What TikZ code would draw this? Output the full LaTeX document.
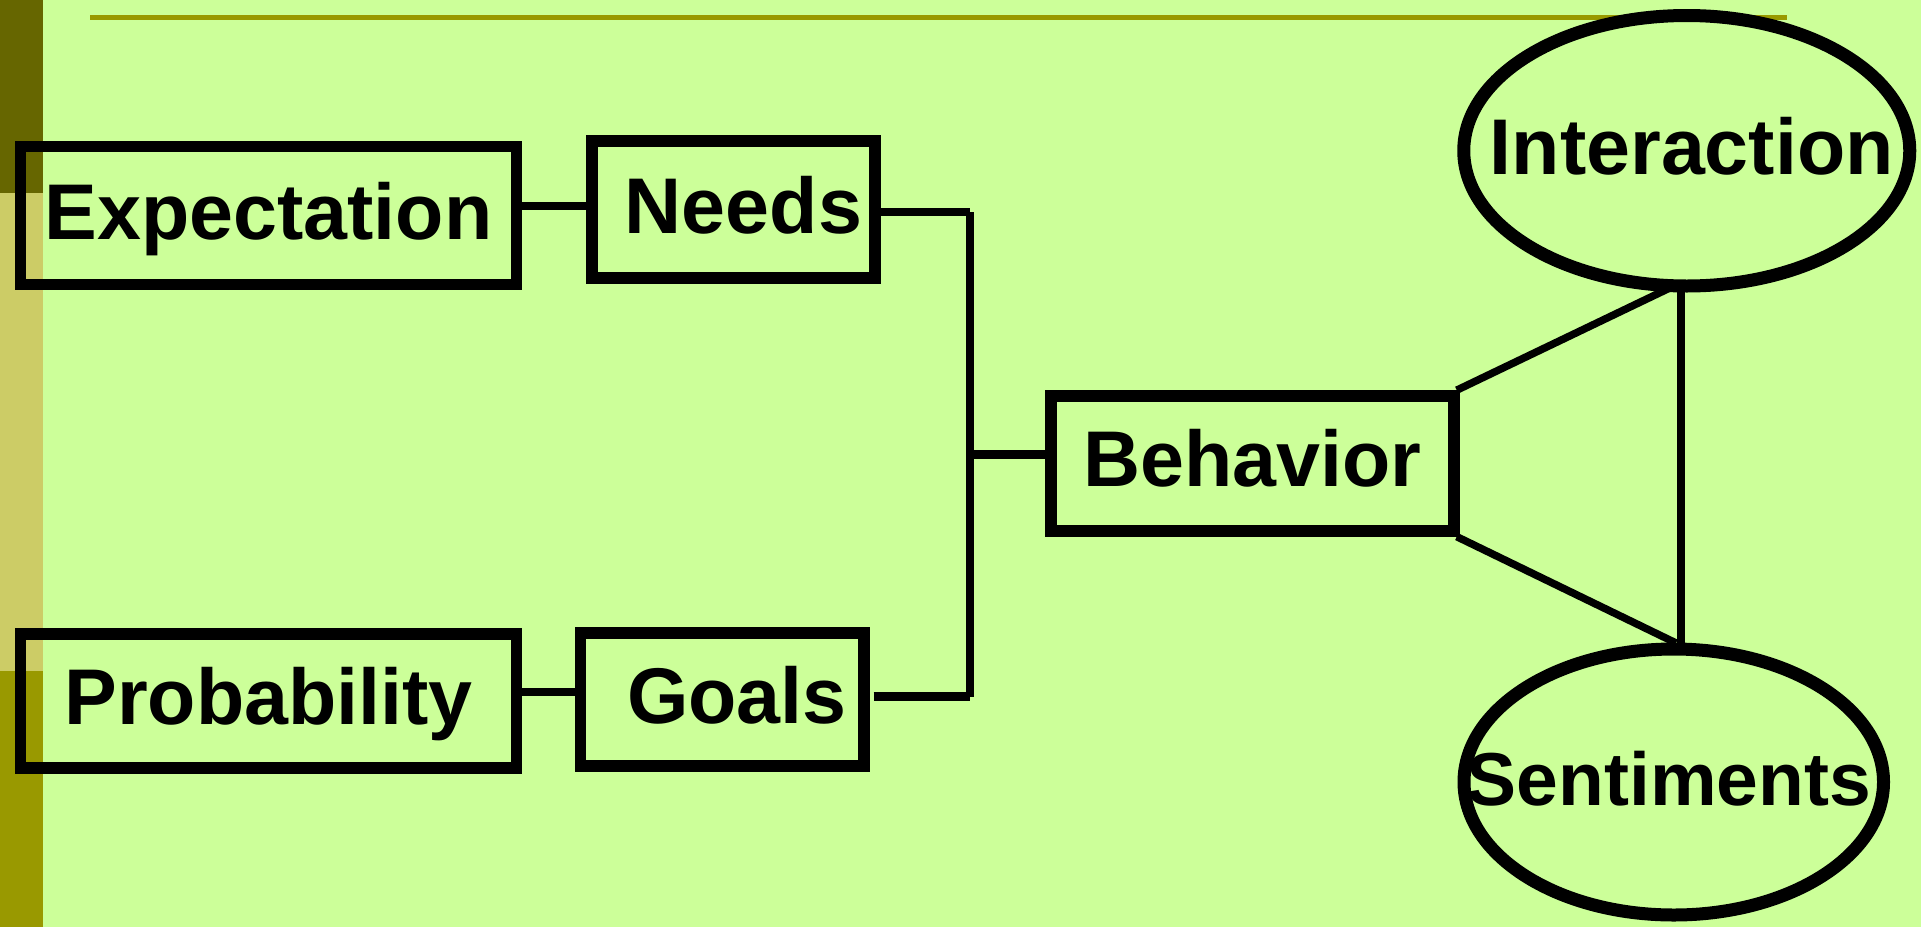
\documentclass[tikz,border=0pt]{standalone}
\usepackage{fontspec}
\setmainfont{Liberation Sans}
\usetikzlibrary{shapes.geometric}

\definecolor{bgcol}{HTML}{CCFF99}
\definecolor{darkolive}{HTML}{666600}
\definecolor{khaki}{HTML}{CCCC66}
\definecolor{olive}{HTML}{999900}

\tikzset{
  txt/.style={font=\bfseries\fontsize{79}{90}\selectfont, text height=57, text depth=10, inner sep=0},
  box/.style={draw=black, line width=11.5, rectangle, inner sep=0},
  oval/.style={draw=black, line width=13, ellipse, inner sep=0},
  link/.style={draw=black, line width=8.5},
  slant/.style={draw=black, line width=7.5},
}

\begin{document}
\begin{tikzpicture}[x=1pt, y=-1pt]
  \useasboundingbox (0,0) rectangle (1921,927);
  % background and side strip
  \fill[bgcol] (0,0) rectangle (1921,927);
  \fill[darkolive] (0,0) rectangle (43,193);
  \fill[khaki] (0,193) rectangle (43,671);
  \fill[olive] (0,671) rectangle (43,927);
  \draw[olive, line width=5] (90,17.5) -- (1787,17.5);

  % boxes
  \node[box, minimum width=496, minimum height=138, label={[txt]center:Expectation}] (E) at (268.5,215.5) {};
  \node[box, minimum width=283, minimum height=137, label={[txt, xshift=10]center:Needs}] (N) at (733.5,209.5) {};
  \node[box, minimum width=496, minimum height=134, label={[txt]center:Probability}] (P) at (268.5,701) {};
  \node[box, minimum width=283.5, minimum height=133, label={[txt, xshift=15]center:Goals}] (G) at (722,699.5) {};
  \node[box, minimum width=403, minimum height=135, label={[txt]center:Behavior}] (B) at (1252.5,463.4) {};

  % ellipses
  \node[oval, minimum width=446, minimum height=270.5, label={[txt, xshift=5]center:Interaction}] (I) at (1686.75,150.75) {};
  \node[oval, minimum width=419.5, minimum height=266, label={[txt, xshift=-5, font=\bfseries\fontsize{75}{86}\selectfont]center:Sentiments}] (S) at (1673.75,782) {};

  % junction points
  \coordinate (jt) at (970,212);
  \coordinate (jm) at (970,454.5);
  \coordinate (jb) at (970,696.5);
  \coordinate (iu) at (1681,284);
  \coordinate (sd) at (1681,643);

  % left connectors
  \draw[link] (E.east |- 0,206) -- (N.west |- 0,206);
  \draw[link] (P.east |- 0,692) -- (G.west |- 0,692);

  % bracket into Behavior
  \draw[link] (N.east |- jt) -- (jt);
  \draw[link] ([xshift=4]G.east |- jb) -- (jb);
  \draw[link] (jt) -- (jb);
  \draw[link] (jm) -- (B.west |- jm);

  % triangle to the ellipses
  \draw[slant] ([xshift=-3]B.north east) -- ([xshift=-3]iu);
  \draw[slant] ([xshift=-3]B.south east) -- ([xshift=-5]sd);
  \draw[link] (iu) -- (sd);
\end{tikzpicture}
\end{document}
